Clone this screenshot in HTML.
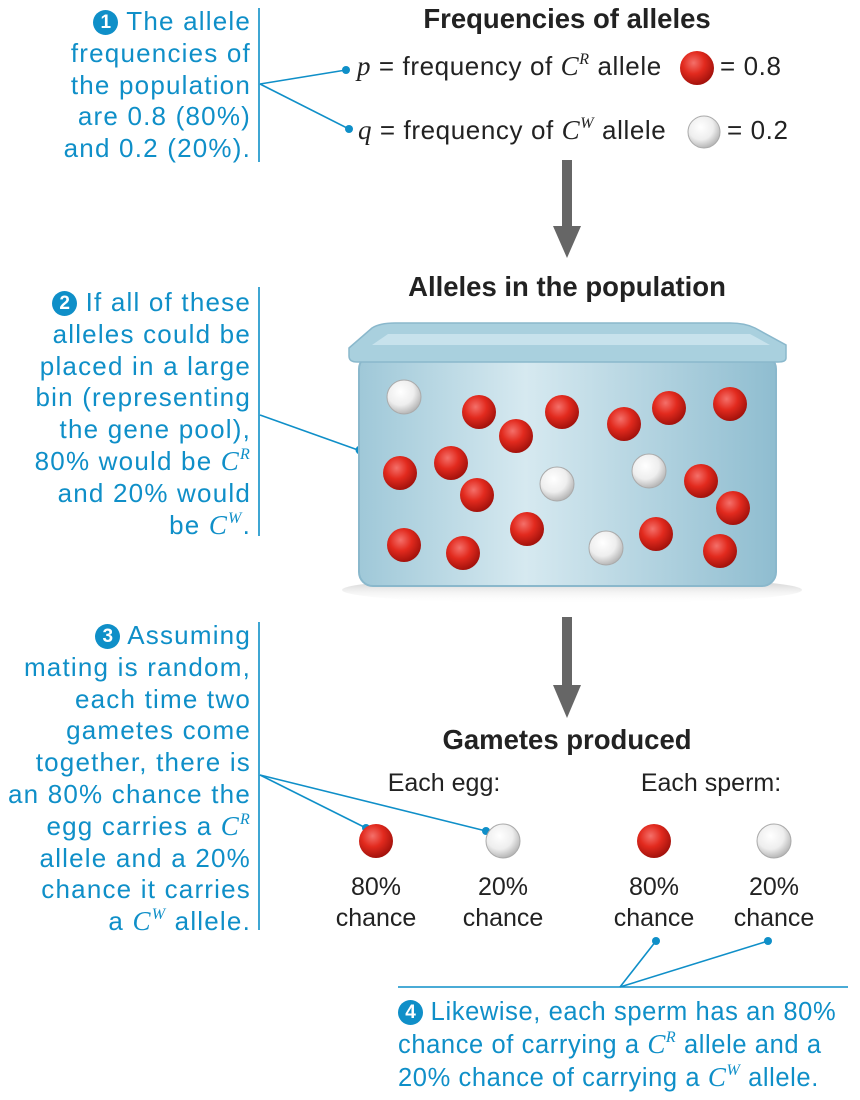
<!DOCTYPE html>
<html><head><style>
body{margin:0;width:860px;height:1100px;background:#fff;position:relative;font-family:"Liberation Sans",sans-serif;overflow:hidden}
.t{position:absolute;color:#0f8fc8;font-size:26px;line-height:31.8px;letter-spacing:1.2px;white-space:nowrap}
.r{text-align:right;right:609px}
.h{position:absolute;font-weight:bold;font-size:27.5px;color:#222;text-align:center;width:440px;left:347px}
.k{position:absolute;color:#222;font-size:25px;text-align:center;width:160px;line-height:31px}
.n{display:inline-block;width:25px;height:25px;border-radius:50%;background:#0f8fc8;color:#fff;font-weight:bold;font-size:19px;line-height:25px;text-align:center;vertical-align:2px;letter-spacing:0}
i{font-family:"Liberation Serif",serif;font-size:27px}
sup{font-size:16px;font-family:"Liberation Serif",serif;font-style:italic;line-height:0;vertical-align:0;position:relative;top:-11px}
.m{position:absolute;color:#222;font-size:26px;letter-spacing:0.6px;white-space:nowrap}
</style></head><body>
<svg width="860" height="1100" style="position:absolute;left:0;top:0">
<defs>
<radialGradient id="rd" cx="40%" cy="35%" r="65%"><stop offset="0" stop-color="#f4706a"/><stop offset=".5" stop-color="#e22a1e"/><stop offset="1" stop-color="#a4120c"/></radialGradient>
<radialGradient id="wh" cx="40%" cy="35%" r="65%"><stop offset="0" stop-color="#fff"/><stop offset=".6" stop-color="#eee"/><stop offset="1" stop-color="#b8b8b8"/></radialGradient>
<linearGradient id="bin" x1="0" x2="1"><stop offset="0" stop-color="#9fc8d8"/><stop offset=".4" stop-color="#d6e9f0"/><stop offset="1" stop-color="#8fbdd0"/></linearGradient>
<linearGradient id="sh" x1="0" y1="0" x2="0" y2="1"><stop offset="0" stop-color="#bbb"/><stop offset="1" stop-color="#fff" stop-opacity="0"/></linearGradient>
</defs>
<g stroke="#0f8fc8" stroke-width="1.6" fill="none">
<line x1="259" y1="8" x2="259" y2="162"/><line x1="260" y1="84" x2="346" y2="70"/><line x1="260" y1="84" x2="349" y2="129"/>
<line x1="259" y1="287" x2="259" y2="536"/><line x1="260" y1="415" x2="358" y2="450"/>
<line x1="259" y1="622" x2="259" y2="930"/><line x1="260" y1="775" x2="366" y2="828"/><line x1="260" y1="775" x2="486" y2="831"/>
<line x1="398" y1="987" x2="848" y2="987"/><line x1="620" y1="987" x2="656" y2="941"/><line x1="620" y1="987" x2="768" y2="941"/>
</g>
<g fill="#0f8fc8"><circle cx="346" cy="70" r="4"/><circle cx="349" cy="129" r="4"/><circle cx="360" cy="450" r="4.5"/><circle cx="366" cy="828" r="4"/><circle cx="486" cy="831" r="4"/><circle cx="656" cy="941" r="4"/><circle cx="768" cy="941" r="4"/></g>
<g fill="#666"><rect x="562" y="160" width="10" height="68"/><polygon points="553,226 581,226 567,258"/>
<rect x="562" y="617" width="10" height="70"/><polygon points="553,685 581,685 567,718"/></g>
<ellipse cx="572" cy="590" rx="230" ry="14" fill="url(#sh)"/>
<rect x="359" y="355" width="417" height="231" rx="14" fill="url(#bin)" stroke="#8ab8cc" stroke-width="2"/>
<path d="M349 348 L372 328 Q380 323 395 323 L730 323 Q745 323 755 328 L786 345 L786 358 Q786 362 778 362 L357 362 Q349 362 349 356 Z" fill="#a9d0de" stroke="#8ab8cc" stroke-width="1.5"/>
<path d="M372 345 L388 334 L750 334 L770 345 Z" fill="#c7e2ec"/>
<g fill="url(#rd)">
<circle cx="479" cy="412" r="17"/><circle cx="516" cy="436" r="17"/><circle cx="562" cy="412" r="17"/><circle cx="624" cy="424" r="17"/><circle cx="669" cy="408" r="17"/><circle cx="730" cy="404" r="17"/>
<circle cx="400" cy="473" r="17"/><circle cx="451" cy="463" r="17"/><circle cx="477" cy="495" r="17"/><circle cx="701" cy="481" r="17"/><circle cx="733" cy="508" r="17"/>
<circle cx="404" cy="545" r="17"/><circle cx="463" cy="553" r="17"/><circle cx="527" cy="529" r="17"/><circle cx="656" cy="534" r="17"/><circle cx="720" cy="551" r="17"/>
<circle cx="697" cy="68" r="17"/><circle cx="376" cy="841" r="17"/><circle cx="654" cy="841" r="17"/>
</g>
<g fill="url(#wh)" stroke="#aaa" stroke-width="1">
<circle cx="404" cy="397" r="17"/><circle cx="557" cy="484" r="17"/><circle cx="649" cy="471" r="17"/><circle cx="606" cy="548" r="17"/>
<circle cx="704" cy="132" r="16"/><circle cx="503" cy="841" r="17"/><circle cx="774" cy="841" r="17"/>
</g>
</svg>
<div class="t r" style="top:6px"><span class="n">1</span> The allele<br>frequencies of<br>the population<br>are 0.8 (80%)<br>and 0.2 (20%).</div>
<div class="t r" style="top:287px"><span class="n">2</span> If all of these<br>alleles could be<br>placed in a large<br>bin (representing<br>the gene pool),<br>80% would be <i>C</i><sup>R</sup><br>and 20% would<br>be <i>C</i><sup>W</sup>.</div>
<div class="t r" style="top:620px"><span class="n">3</span> Assuming<br>mating is random,<br>each time two<br>gametes come<br>together, there is<br>an 80% chance the<br>egg carries a <i>C</i><sup>R</sup><br>allele and a 20%<br>chance it carries<br>a <i>C</i><sup>W</sup> allele.</div>
<div class="t" style="left:398px;top:997px;font-size:25.5px;letter-spacing:0.6px"><span class="n">4</span> Likewise, each sperm has an 80%<br>chance of carrying a <i>C</i><sup>R</sup> allele and a<br>20% chance of carrying a <i>C</i><sup>W</sup> allele.</div>
<div class="h" style="top:3px">Frequencies of alleles</div>
<div class="m" style="left:357px;top:51px"><i>p</i> = frequency of <i>C</i><sup>R</sup> allele</div>
<div class="m" style="left:720px;top:51px">= 0.8</div>
<div class="m" style="left:358px;top:115px"><i>q</i> = frequency of <i>C</i><sup>W</sup> allele</div>
<div class="m" style="left:727px;top:115px">= 0.2</div>
<div class="h" style="top:271px">Alleles in the population</div>
<div class="h" style="top:724px">Gametes produced</div>
<div class="k" style="left:364px;top:768px">Each egg:</div>
<div class="k" style="left:631px;top:768px">Each sperm:</div>
<div class="k" style="left:296px;top:872px">80%<br>chance</div>
<div class="k" style="left:423px;top:872px">20%<br>chance</div>
<div class="k" style="left:574px;top:872px">80%<br>chance</div>
<div class="k" style="left:694px;top:872px">20%<br>chance</div>
</body></html>
